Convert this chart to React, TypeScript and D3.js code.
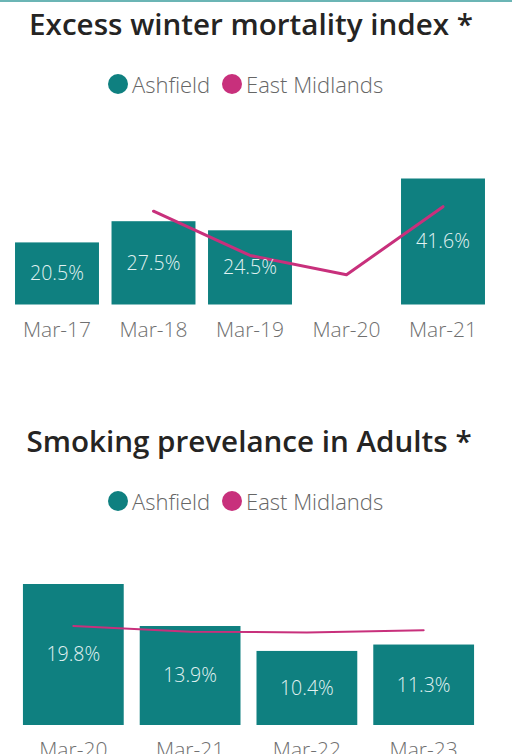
import React from "react";
import * as d3 from "d3";

const winterCategories = ["Mar-17", "Mar-18", "Mar-19", "Mar-20", "Mar-21"];
const winterAshfield: (number | null)[] = [20.5, 27.5, 24.5, null, 41.6];
const winterEastMidlands: (number | null)[] = [null, 30.8, 16.2, 9.8, 32.3];

const smokingCategories = ["Mar-20", "Mar-21", "Mar-22", "Mar-23"];
const smokingAshfield: (number | null)[] = [19.8, 13.9, 10.4, 11.3];
const smokingEastMidlands: (number | null)[] = [13.9, 13.1, 13.0, 13.3];

const legendNames = ["Ashfield", "East Midlands"];
const BAR = "#0F8080";
const LINE = "#C8307C";
const FONT = "'Open Sans', 'Noto Sans', sans-serif";

type ChartProps = {
  title: string;
  titleX: number;
  titleY: number;
  legendY: number;
  categories: string[];
  bars: (number | null)[];
  line: (number | null)[];
  x0: number;
  x1: number;
  padInner: number;
  padOuter: number;
  baseline: number;
  top: number;
  lineWidth: number;
};

function Chart(p: ChartProps) {
  const x = d3
    .scaleBand<string>()
    .domain(p.categories)
    .range([p.x0, p.x1])
    .paddingInner(p.padInner)
    .paddingOuter(p.padOuter);
  const maxV = d3.max(p.bars, (d) => (d == null ? 0 : d)) as number;
  const y = d3.scaleLinear().domain([0, maxV]).range([p.baseline, p.top]);
  const pts = p.categories.map((c, i) => ({ c, v: p.line[i] }));
  const lineGen = d3
    .line<{ c: string; v: number | null }>()
    .defined((d) => d.v != null)
    .x((d) => (x(d.c) as number) + x.bandwidth() / 2)
    .y((d) => y(d.v as number));
  return (
    <g>
      <text
        x={p.titleX}
        y={p.titleY}
        textAnchor="middle"
        fontFamily={FONT}
        fontWeight={600}
        fontSize={29.6}
        fill="#252423"
      >
        {p.title}
      </text>
      <g fontFamily={FONT} fontSize={22} fontWeight={300} fill="#666">
        <circle cx={118} cy={p.legendY - 9} r={10} fill={BAR} />
        <text x={132} y={p.legendY}>{legendNames[0]}</text>
        <circle cx={232} cy={p.legendY - 9} r={10} fill={LINE} />
        <text x={246} y={p.legendY}>{legendNames[1]}</text>
      </g>
      {p.categories.map((c, i) => {
        const v = p.bars[i];
        if (v == null) return null;
        return (
          <rect
            key={c}
            x={x(c)}
            y={y(v)}
            width={x.bandwidth()}
            height={y(0) - y(v)}
            fill={BAR}
          />
        );
      })}
      <path
        d={lineGen(pts) || ""}
        fill="none"
        stroke={LINE}
        strokeWidth={p.lineWidth}
        strokeLinejoin="round"
        strokeLinecap="round"
      />
      {p.categories.map((c, i) => {
        const v = p.bars[i];
        if (v == null) return null;
        return (
          <text
            key={c}
            x={(x(c) as number) + x.bandwidth() / 2}
            y={(y(v) + y(0)) / 2}
            dy="0.35em"
            textAnchor="middle"
            fontFamily={FONT}
            fontWeight={300}
            fontSize={19.5}
            fill="#E2F2F2"
          >
            {v.toFixed(1)}%
          </text>
        );
      })}
      {p.categories.map((c) => (
        <text
          key={c}
          x={(x(c) as number) + x.bandwidth() / 2}
          y={p.baseline + 32}
          textAnchor="middle"
          fontFamily={FONT}
          fontWeight={300}
          fontSize={21}
          fill="#707070"
        >
          {c}
        </text>
      ))}
    </g>
  );
}

export default function App() {
  return (
    <svg
      width={512}
      height={754}
      style={{ position: "absolute", left: 0, top: 0, background: "#fff" }}
    >
      <rect x={0} y={0} width={512} height={2} fill="#6BB5B5" />
      <Chart
        title="Excess winter mortality index *"
        titleX={251}
        titleY={35}
        legendY={93}
        categories={winterCategories}
        bars={winterAshfield}
        line={winterEastMidlands}
        x0={8.75}
        x1={491.25}
        padInner={0.13}
        padOuter={0.065}
        baseline={304.5}
        top={178.5}
        lineWidth={3}
      />
      <Chart
        title="Smoking prevelance in Adults *"
        titleX={249}
        titleY={452}
        legendY={510}
        categories={smokingCategories}
        bars={smokingAshfield}
        line={smokingEastMidlands}
        x0={15}
        x1={482}
        padInner={0.137}
        padOuter={0.068}
        baseline={725}
        top={584}
        lineWidth={2}
      />
    </svg>
  );
}
